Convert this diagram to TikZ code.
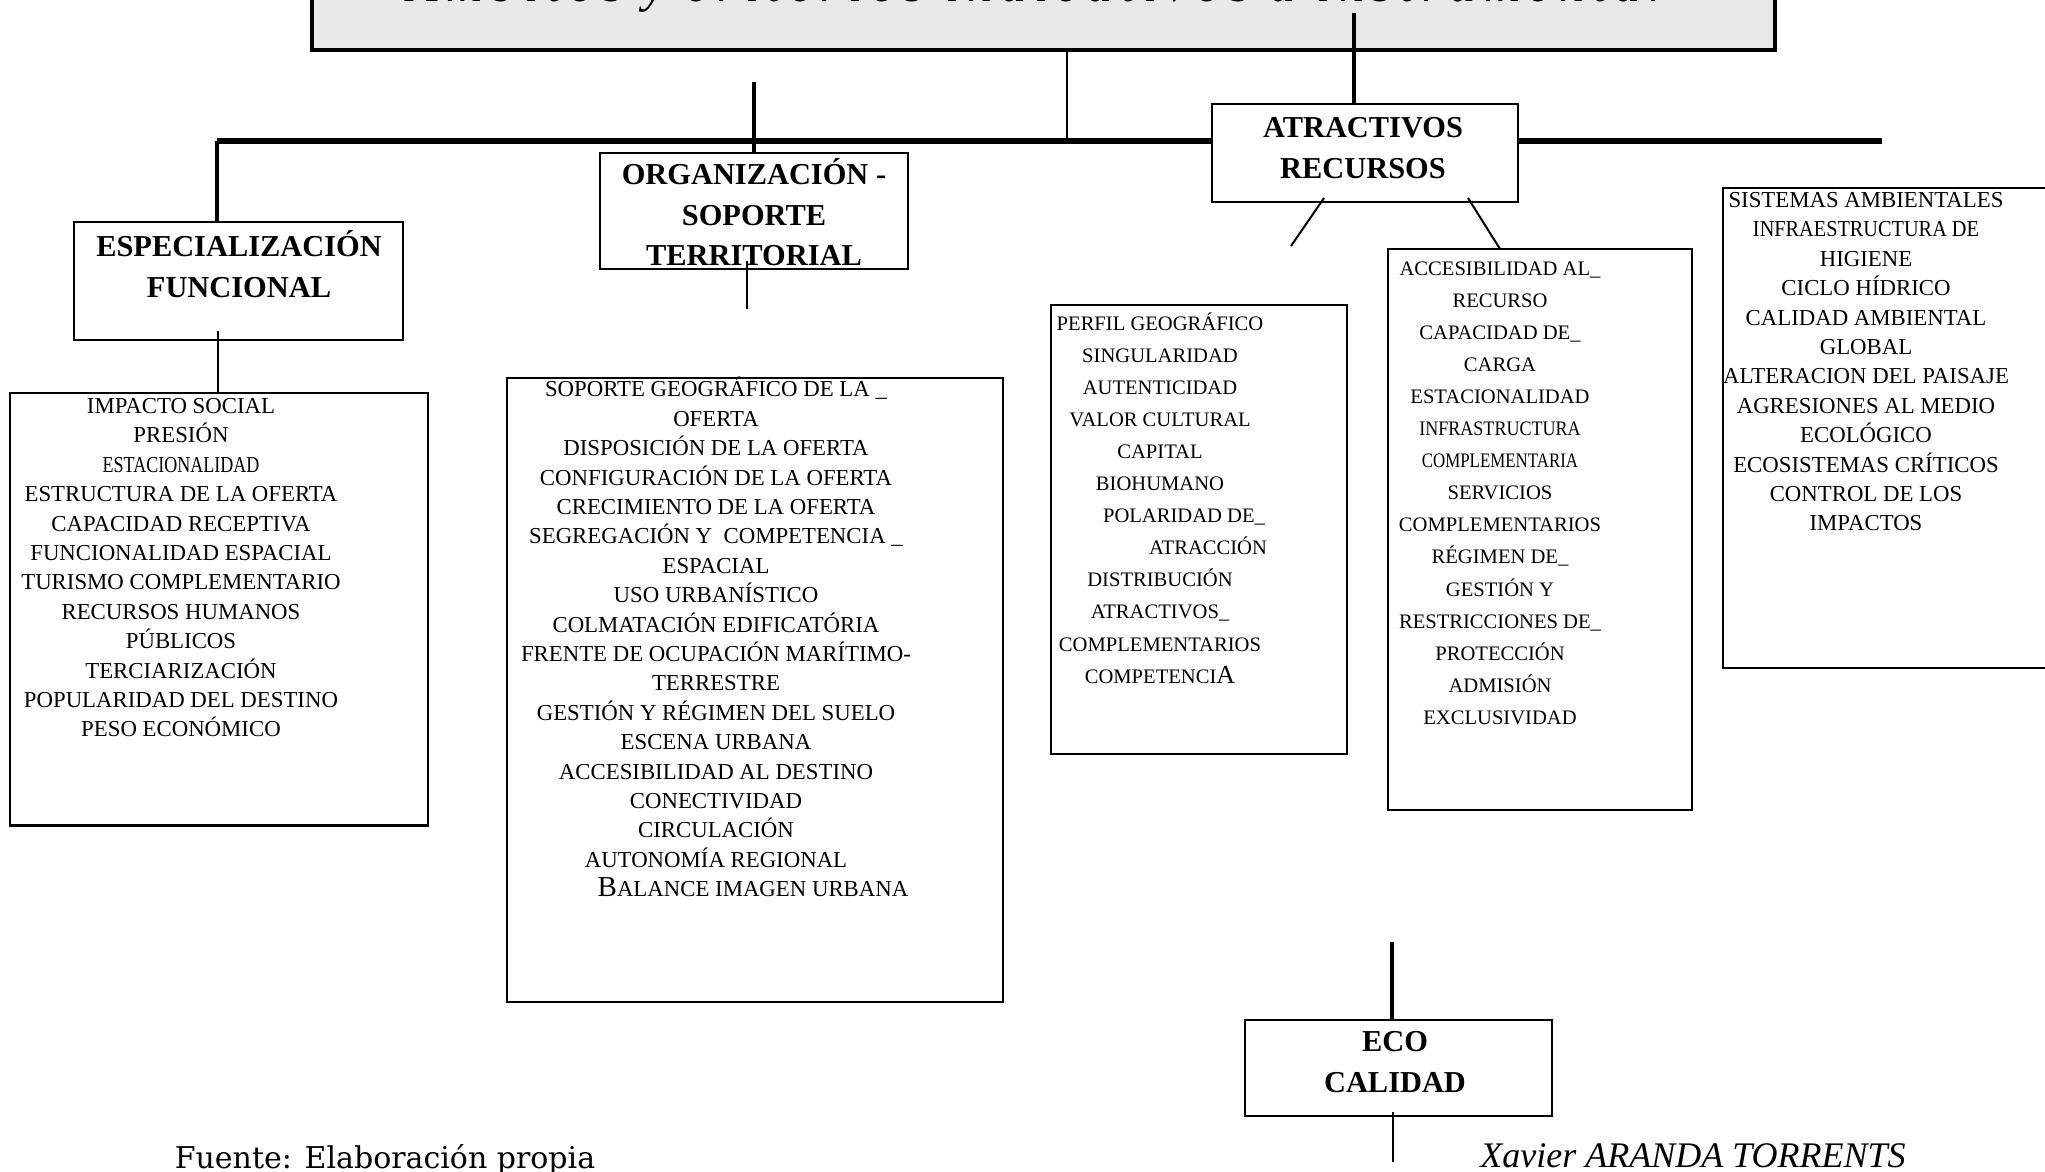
\documentclass[tikz,border=0pt]{standalone}
\usepackage{graphicx}
\usepackage{fontspec}
\setmainfont{Liberation Serif}
\newfontfamily\fuentefont{DejaVu Serif}
\newfontfamily\titulofont[LetterSpace=17]{Liberation Serif}
\usetikzlibrary{fit, positioning}
\definecolor{tituloGris}{RGB}{232,232,232}
% condensed line of a list
\newcommand{\angosto}[2]{\scalebox{#1}[1]{#2}}

\begin{document}
\begin{tikzpicture}[
    x=0.5pt, y=-0.5pt,
    % plain framed box, sized with fit
    caja/.style={draw, line width=1.3pt, fill=white, inner sep=0pt},
    % bold heading inside a box
    cabecera/.style={font=\fontsize{15.2}{20.3}\selectfont\bfseries,
                     align=center, inner sep=0pt, anchor=north},
    % indicator lists
    lista/.style={font=\fontsize{11.4}{14.7}\selectfont,
                  align=center, inner sep=0pt, anchor=north},
    listab/.style={font=\fontsize{10.3}{16.05}\selectfont,
                   align=center, inner sep=0pt, anchor=north},
    grueso/.style={line width=2pt},
    fino/.style={line width=1pt},
    barra/.style={line width=3.3pt}
]
\useasboundingbox (0,0) rectangle (2045,1172);
\clip (0,0) rectangle (2045,1172);
% ── TITLE ─────────────────────────────────────────────────────
\node[caja, fill=tituloGris, line width=2pt,
      fit={(312,-80) (1775,49.6)}]                (titulo)    {};
\node[font=\titulofont\itshape\fontsize{25}{30}\selectfont,
      anchor=base, inner sep=0pt]                  (titulotxt) at (1038,2)
     {Ámbitos y criterios indicativos a instrumentar};
% ── MAIN BAR ──────────────────────────────────────────────────
\coordinate (barraIzq)  at (216.5,141);
\coordinate (barraDer)  at (1882,141);
\coordinate (nudo)      at (1067,141);
\coordinate (atrArriba) at (1354,13);
\coordinate (orgArriba) at (754,82);
\draw[barra] (barraIzq) -- (barraDer);
\draw[fino]  (nudo |- titulo.south) -- (nudo);
% ── ESPECIALIZACION FUNCIONAL ────────────────────────────────
\node[caja, fit={(74,222) (403,340)}]            (esp)   {};
\node[cabecera] (esptxt) at (239,230) {ESPECIALIZACIÓN\\FUNCIONAL};
\node[caja, fit={(10,393) (428,825.5)}]          (lista1) {};
\node[lista] (lista1txt) at (181,398)
     {IMPACTO SOCIAL\\
      PRESIÓN\\
      \angosto{0.79}{ESTACIONALIDAD}\\
      ESTRUCTURA DE LA OFERTA\\
      CAPACIDAD RECEPTIVA\\
      FUNCIONALIDAD ESPACIAL\\
      TURISMO COMPLEMENTARIO\\
      RECURSOS HUMANOS\\
      PÚBLICOS\\
      TERCIARIZACIÓN\\
      POPULARIDAD DEL DESTINO\\
      PESO ECONÓMICO};
\coordinate (espAbajo) at (218,331);
\draw[grueso] (barraIzq) -- (barraIzq |- esp.north);
\draw[fino]   (espAbajo) -- (espAbajo |- lista1.north);
% ── ORGANIZACION - SOPORTE TERRITORIAL ───────────────────────
\node[caja, fit={(600,153) (908,269)}]           (org)   {};
\node[cabecera] (orgtxt) at (754,158)
     {ORGANIZACIÓN -\\SOPORTE\\TERRITORIAL};
\draw[grueso] (orgArriba) -- (org.north);
\coordinate (orgAbajo) at (747,261);
\coordinate (orgCola)  at (747,309);
\draw[fino] (orgAbajo) -- (orgCola);
\node[caja, fit={(507,378) (1003,1002)}]         (lista2) {};
\node[lista] (lista2txt) at (716,377)
     {SOPORTE GEOGRÁFICO DE LA \_\\
      OFERTA\\
      DISPOSICIÓN DE LA OFERTA\\
      CONFIGURACIÓN DE LA OFERTA\\
      CRECIMIENTO DE LA OFERTA\\
      SEGREGACIÓN Y\ \ COMPETENCIA \_\\
      ESPACIAL\\
      USO URBANÍSTICO\\
      COLMATACIÓN EDIFICATÓRIA\\
      FRENTE DE OCUPACIÓN MARÍTIMO-\\
      TERRESTRE\\
      GESTIÓN Y RÉGIMEN DEL SUELO\\
      ESCENA URBANA\\
      ACCESIBILIDAD AL DESTINO\\
      CONECTIVIDAD\\
      CIRCULACIÓN\\
      AUTONOMÍA REGIONAL\\
      \hspace*{37pt}{\fontsize{14.5}{14.7}\selectfont B}ALANCE IMAGEN URBANA};
% ── ATRACTIVOS RECURSOS ───────────────────────────────────────
\node[caja, fit={(1212,104) (1518,202)}]         (atr)   {};
\node[cabecera] (atrtxt) at (1363,117) {ATRACTIVOS\\RECURSOS};
\draw[grueso] (atrArriba) -- (atrArriba |- atr.north);
\node[caja, fit={(1051,305) (1347,754)}]         (lista3) {};
\node[listab] (lista3txt) at (1160,312)
     {PERFIL GEOGRÁFICO\\
      SINGULARIDAD\\
      AUTENTICIDAD\\
      VALOR CULTURAL\\
      CAPITAL\\
      BIOHUMANO\\
      \hspace*{24pt}POLARIDAD DE\_\\
      \hspace*{48pt}ATRACCIÓN\\
      DISTRIBUCIÓN\\
      ATRACTIVOS\_\\
      COMPLEMENTARIOS\\
      COMPETENCI{\fontsize{13}{16.05}\selectfont A}};
\node[caja, fit={(1388,249) (1692,810)}]         (lista4) {};
\node[listab] (lista4txt) at (1500,261)
     {ACCESIBILIDAD AL\_\\
      RECURSO\\
      CAPACIDAD DE\_\\
      CARGA\\
      ESTACIONALIDAD\\
      \angosto{0.875}{INFRASTRUCTURA}\\
      \angosto{0.82}{COMPLEMENTARIA}\\
      SERVICIOS\\
      COMPLEMENTARIOS\\
      RÉGIMEN DE\_\\
      GESTIÓN Y\\
      RESTRICCIONES DE\_\\
      PROTECCIÓN\\
      ADMISIÓN\\
      EXCLUSIVIDAD};
\coordinate (diagA1) at (1324,198);
\coordinate (diagA2) at (1291,246);
\coordinate (diagB1) at (1468,198);
\coordinate (diagB2) at (1500,249);
\draw[fino] (diagA1) -- (diagA2);
\draw[fino] (diagB1) -- (diagB2);
% ── SISTEMAS AMBIENTALES (runs off the right edge) ───────────
\node[caja, fit={(1723,188) (2080,668)}]         (lista5) {};
\node[lista] (lista5txt) at (1866,192)
     {SISTEMAS AMBIENTALES\\
      \angosto{0.89}{INFRAESTRUCTURA DE}\\
      HIGIENE\\
      CICLO HÍDRICO\\
      CALIDAD AMBIENTAL\\
      GLOBAL\\
      ALTERACION DEL PAISAJE\\
      AGRESIONES AL MEDIO\\
      ECOLÓGICO\\
      ECOSISTEMAS CRÍTICOS\\
      CONTROL DE LOS\\
      IMPACTOS};
% ── ECO CALIDAD ───────────────────────────────────────────────
\node[caja, fit={(1245,1020) (1552,1116)}]       (eco)   {};
\node[cabecera] (ecotxt) at (1395,1031) {ECO\\CALIDAD};
\coordinate (ecoArriba) at (1392,942);
\coordinate (ecoAbajo)  at (1393,1112);
\coordinate (ecoCola)   at (1393,1162);
\draw[grueso] (ecoArriba) -- (ecoArriba |- eco.north);
\draw[fino]   (ecoAbajo) -- (ecoCola);
% ── FOOTER ────────────────────────────────────────────────────
\node[font=\fuentefont\fontsize{15}{18}\selectfont,
      anchor=base, inner sep=0pt] (fuente) at (385,1168)
     {Fuente: Elaboración propia};
\node[font=\itshape\fontsize{18}{22}\selectfont,
      anchor=base, inner sep=0pt] (autor)  at (1693,1167)
     {Xavier ARANDA TORRENTS};
\end{tikzpicture}
\end{document}
